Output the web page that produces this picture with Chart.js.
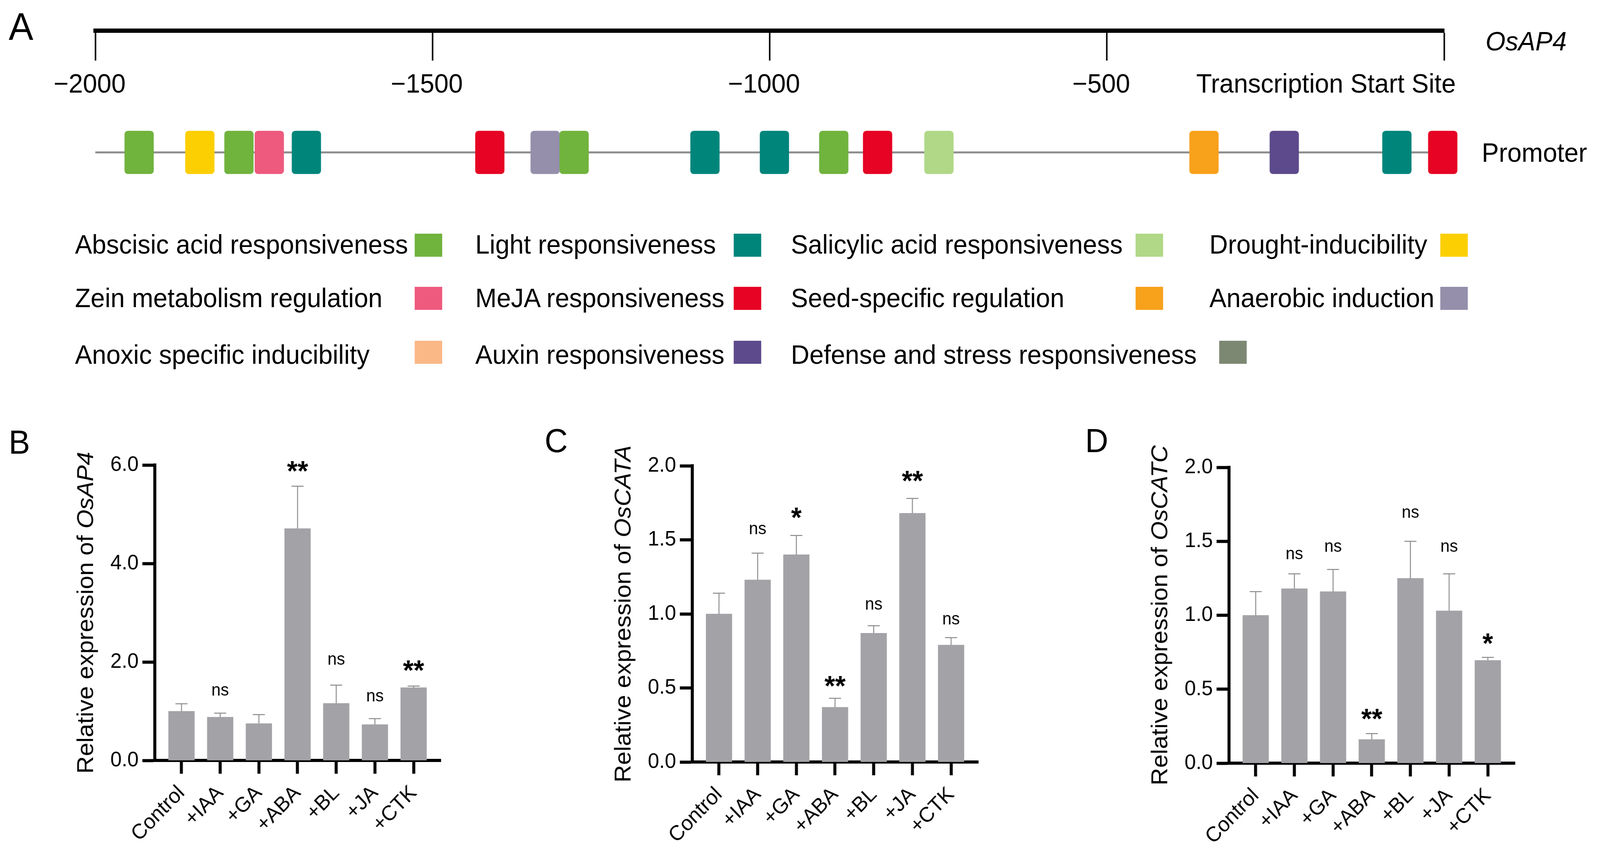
<!DOCTYPE html>
<html>
<head>
<meta charset="utf-8">
<script src="https://cdn.jsdelivr.net/npm/chart.js@4.4.1/dist/chart.umd.min.js"></script>
<style>
  html, body { margin: 0; padding: 0; background: #fff; overflow: hidden; }
  #fig { position: relative; width: 4248px; height: 2188px; overflow: hidden; background: #fff;
         font-family: "Liberation Sans", Arial, Helvetica, sans-serif; color: #000; transform-origin: 0 0; }
  #fig canvas { position: absolute; }
  .txt { position: absolute; line-height: 1; white-space: nowrap; }
  .sw { position: absolute; width: 73px; height: 59px; }
</style>
</head>
<body>
<div id="fig">
  <canvas id="ruler" width="4248" height="300" style="left:0;top:0;width:4248px;height:300px"></canvas>
  <canvas id="promoter" width="4248" height="180" style="left:0;top:300px;width:4248px;height:180px"></canvas>
  <canvas id="chartB" width="1400" height="1128" style="left:0;top:1060px;width:1400px;height:1128px"></canvas>
  <canvas id="chartC" width="1400" height="1128" style="left:1450px;top:1060px;width:1400px;height:1128px"></canvas>
  <canvas id="chartD" width="1400" height="1128" style="left:2848px;top:1060px;width:1400px;height:1128px"></canvas>

  <div class="txt" style="left:23px;top:19px;font-size:98px">A</div>
  <div class="txt" style="left:23px;top:1089px;font-size:85px">B</div>
  <div class="txt" style="left:1446px;top:1085px;font-size:85px">C</div>
  <div class="txt" style="left:2881px;top:1085px;font-size:85px">D</div>
  <div class="txt" style="left:3944px;top:71px;font-size:68px;font-style:italic">OsAP4</div>
  <div class="txt" style="left:3934px;top:356px;font-size:68px">Promoter</div>
  <div id="legend"></div>
</div>

<script>
// ---- Panel A: promoter cis-elements ----
const rulerTicks = [-2000, -1500, -1000, -500, 0];
const elementNames = [
  'Abscisic acid responsiveness', 'Light responsiveness', 'Salicylic acid responsiveness', 'Drought-inducibility',
  'Zein metabolism regulation', 'MeJA responsiveness', 'Seed-specific regulation', 'Anaerobic induction',
  'Anoxic specific inducibility', 'Auxin responsiveness', 'Defense and stress responsiveness'
];
const elementColors = [
  '#70b33d', '#00857b', '#b0d886', '#fccf03',
  '#ee5a7e', '#e60323', '#f8a11b', '#958fac',
  '#fbb887', '#5c4a8c', '#7d8873'
];
// site centre (bp upstream of TSS) and its element type (index into elementNames)
const sitePos  = [-1935, -1845, -1787, -1742, -1687, -1415, -1333, -1290, -1096, -993, -905, -840, -749, -356, -237, -70, -2];
const siteType = [0, 3, 0, 4, 1, 5, 7, 0, 1, 1, 0, 5, 2, 6, 9, 1, 5];

// ---- Panels B-D: qRT-PCR ----
const treatments = ['Control', '+IAA', '+GA', '+ABA', '+BL', '+JA', '+CTK'];

const ap4Mean = [1.00, 0.88, 0.75, 4.71, 1.16, 0.73, 1.48];
const ap4Sd   = [0.15, 0.08, 0.18, 0.86, 0.37, 0.12, 0.03];
const ap4Sig  = ['', 'ns', '', '**', 'ns', 'ns', '**'];
const ap4SigY = [null, 1.41, null, 6.0, 2.04, 1.29, 1.95];
const ap4Ticks = [0, 2, 4, 6];

const cataMean = [1.00, 1.23, 1.40, 0.37, 0.87, 1.68, 0.79];
const cataSd   = [0.14, 0.18, 0.13, 0.06, 0.05, 0.10, 0.05];
const cataSig  = ['', 'ns', '*', '**', 'ns', '**', 'ns'];
const cataSigY = [null, 1.57, 1.69, 0.555, 1.06, 1.94, 0.96];

const catcMean = [1.00, 1.18, 1.16, 0.16, 1.25, 1.03, 0.695];
const catcSd   = [0.16, 0.10, 0.15, 0.04, 0.25, 0.25, 0.02];
const catcSig  = ['', 'ns', 'ns', '**', 'ns', 'ns', '*'];
const catcSigY = [null, 1.41, 1.46, 0.34, 1.69, 1.46, 0.85];
const catTicks = [0, 0.5, 1.0, 1.5, 2.0];

const FONT = '"Liberation Sans", Arial, Helvetica, sans-serif';
Chart.defaults.font.family = FONT;
Chart.defaults.color = '#000';

// the figure is laid out at 4248x2188; stretch it onto the viewport we actually get
const fig = document.getElementById('fig');
const sx = window.innerWidth / 4248, sy = window.innerHeight / 2188;
if (Math.abs(sx - 1) > 0.002 || Math.abs(sy - 1) > 0.002) {
  fig.style.transform = `scale(${sx}, ${sy})`;
}

// legend layout (px)
const legendTextX = [199, 1262, 2100, 3211];
const legendRowTop = [591, 728, 873];
const legendSwatchTop = [598, 734, 872];
const legendSwatchX = [1101, 1948, 3015, 3824, 1101, 1948, 3015, 3824, 1101, 1948, 3237];

const legendBox = document.getElementById('legend');
elementNames.forEach((name, i) => {
  const row = Math.floor(i / 4), col = i % 4;
  const t = document.createElement('div');
  t.className = 'txt';
  t.style.cssText = `left:${legendTextX[col]}px;top:${legendRowTop[row]}px;font-size:68px`;
  t.textContent = name;
  legendBox.appendChild(t);
  const s = document.createElement('div');
  s.className = 'sw';
  s.style.cssText = `left:${legendSwatchX[i]}px;top:${legendSwatchTop[row]}px;background:${elementColors[i]}`;
  legendBox.appendChild(s);
});

// "Transcription Start Site" label sits left of the 0 tick
const tssLabel = {
  id: 'tssLabel',
  afterDraw(chart) {
    const x = chart.scales.x;
    const ctx = chart.ctx;
    ctx.save();
    ctx.font = '68px ' + FONT;
    ctx.fillStyle = '#000';
    ctx.textAlign = 'right';
    ctx.textBaseline = 'middle';
    ctx.fillText('Transcription Start Site', x.getPixelForValue(0) + 31, x.top + 77 + 22 + 68 * 1.2 / 2);
    ctx.restore();
  }
};

new Chart(document.getElementById('ruler'), {
  type: 'line',
  data: { datasets: [] },
  options: {
    responsive: false,
    animation: false,
    layout: { padding: { left: 253, right: 4248 - 3834, top: 10, bottom: 0 } },
    plugins: { legend: { display: false }, tooltip: { enabled: false } },
    scales: {
      x: {
        type: 'linear', position: 'bottom', min: -2000, max: 0,
        afterBuildTicks: s => { s.ticks = rulerTicks.map(v => ({ value: v })); },
        afterFit: s => { s.height = 300 - 78; },
        grid: { drawOnChartArea: false, tickLength: 77, tickWidth: 4, tickColor: '#000' },
        border: { width: 11, color: '#000' },
        ticks: {
          callback: v => (v === 0 ? '' : '\u2212' + Math.abs(v)),
          padding: 22, labelOffset: -15, color: '#000', font: { size: 68 }
        }
      },
      y: { display: false }
    }
  },
  plugins: [tssLabel]
});

new Chart(document.getElementById('promoter'), {
  type: 'bar',
  data: {
    datasets: [
      {
        type: 'bar',
        data: sitePos.map(p => ({ x: p, y: [-1, 1] })),
        backgroundColor: siteType.map(t => elementColors[t]),
        barThickness: 77,
        borderRadius: 9,
        borderSkipped: false,
        clip: false,
        order: 1
      },
      {
        type: 'line',
        data: [{ x: -2000, y: 0 }, { x: 0, y: 0 }],
        borderColor: '#8c8c8c',
        borderWidth: 5,
        pointRadius: 0,
        order: 2
      }
    ]
  },
  options: {
    responsive: false,
    animation: false,
    layout: { padding: { left: 253, right: 4248 - 3834, top: 35, bottom: 35 } },
    plugins: { legend: { display: false }, tooltip: { enabled: false } },
    scales: {
      x: { type: 'linear', min: -2000, max: 0, display: false, offset: false, grid: { offset: false } },
      y: { min: -1, max: 1, display: false }
    }
  }
});

// error bars (upper only) + significance marks
const errorBars = {
  id: 'errorBars',
  afterDatasetsDraw(chart, args, opts) {
    const { ctx, scales: { x, y } } = chart;
    const mean = chart.data.datasets[0].data;
    ctx.save();
    ctx.strokeStyle = '#8a8a8a';
    ctx.lineWidth = 2.5;
    mean.forEach((d, i) => {
      const px = x.getPixelForValue(d.x);
      const y0 = y.getPixelForValue(d.y);
      const y1 = y.getPixelForValue(d.y + opts.sd[i]);
      ctx.beginPath();
      ctx.moveTo(px, y0);
      ctx.lineTo(px, y1);
      ctx.moveTo(px - 16, y1);
      ctx.lineTo(px + 16, y1);
      ctx.stroke();
    });
    ctx.fillStyle = '#000';
    ctx.textAlign = 'center';
    ctx.textBaseline = 'alphabetic';
    opts.sig.forEach((s, i) => {
      if (!s) return;
      const star = s !== 'ns';
      ctx.font = (star ? 'bold 72px ' : '44px ') + FONT;
      const py = y.getPixelForValue(opts.sigY[i]) + (star ? 40 : 12);
      ctx.fillText(s, x.getPixelForValue(i), py);
    });
    ctx.restore();
  }
};

// y title with italic gene name
const yTitle = {
  id: 'yTitle',
  afterDraw(chart, args, opts) {
    const { ctx, chartArea } = chart;
    const cx = chartArea.left - 181;
    const cy = (chartArea.top + chartArea.bottom) / 2;
    const f1 = '62px ' + FONT, f2 = 'italic 62px ' + FONT;
    const pre = 'Relative expression of ';
    ctx.save();
    ctx.translate(cx, cy);
    ctx.rotate(-Math.PI / 2);
    ctx.font = f1;
    const w1 = ctx.measureText(pre).width;
    ctx.font = f2;
    const w2 = ctx.measureText(opts.gene).width;
    const x0 = -(w1 + w2) / 2;
    ctx.fillStyle = '#000';
    ctx.textAlign = 'left';
    ctx.textBaseline = 'middle';
    ctx.font = f1;
    ctx.fillText(pre, x0, 0);
    ctx.font = f2;
    ctx.fillText(opts.gene, x0 + w1, 0);
    ctx.restore();
  }
};

function barChart(id, geo, mean, sd, sig, sigY, yTicks, gene) {
  return new Chart(document.getElementById(id), {
    type: 'bar',
    data: {
      datasets: [{
        data: mean.map((v, i) => ({ x: i, y: v })),
        backgroundColor: '#a3a3a7',
        barThickness: 69
      }]
    },
    options: {
      responsive: false,
      animation: false,
      layout: { padding: { left: 0, top: geo.top, right: geo.right, bottom: 0 } },
      plugins: {
        legend: { display: false },
        tooltip: { enabled: false },
        errorBars: { sd: sd, sig: sig, sigY: sigY },
        yTitle: { gene: gene }
      },
      scales: {
        x: {
          type: 'linear', min: -0.69, max: 6.70, offset: false,
          afterBuildTicks: s => { s.ticks = treatments.map((_, i) => ({ value: i })); },
          afterFit: s => { s.height = geo.xh; },
          grid: { offset: false, drawOnChartArea: false, tickLength: 34, tickWidth: 8, tickColor: '#000' },
          border: { width: 8, color: '#000' },
          ticks: {
            callback: v => treatments[v],
            autoSkip: false, minRotation: 45, maxRotation: 45,
            padding: 18, color: '#000', font: { size: 54 }
          }
        },
        y: {
          min: 0, max: yTicks[yTicks.length - 1],
          afterBuildTicks: s => { s.ticks = yTicks.map(v => ({ value: v })); },
          afterFit: s => { s.width = geo.yw; },
          grid: { drawOnChartArea: false, tickLength: 33, tickWidth: 8, tickColor: '#000' },
          border: { width: 8, color: '#000' },
          ticks: { callback: v => v.toFixed(1), padding: 10, color: '#000', font: { size: 54 } }
        }
      }
    },
    plugins: [errorBars, yTitle]
  });
}

barChart('chartB', { yw: 411, top: 130, right: 230, xh: 242 }, ap4Mean, ap4Sd, ap4Sig, ap4SigY, ap4Ticks, 'OsAP4');
barChart('chartC', { yw: 388, top: 132, right: 253, xh: 238 }, cataMean, cataSd, cataSig, cataSigY, catTicks, 'OsCATA');
barChart('chartD', { yw: 415, top: 136, right: 226, xh: 235 }, catcMean, catcSd, catcSig, catcSigY, catTicks, 'OsCATC');
</script>
</body>
</html>
